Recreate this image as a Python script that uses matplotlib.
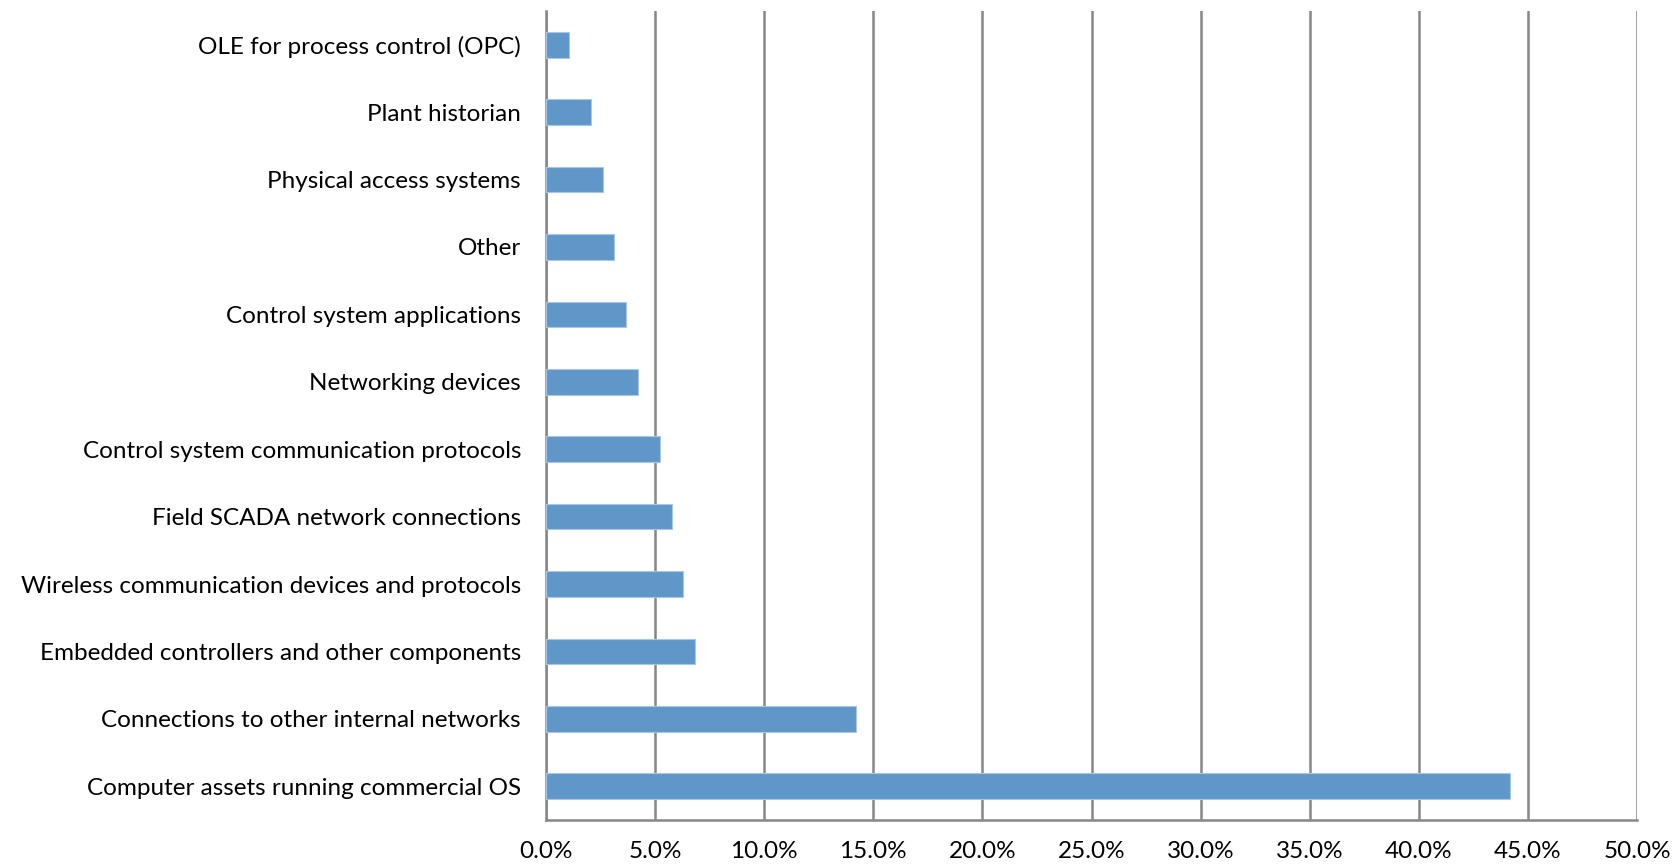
import matplotlib.pyplot as plt
from matplotlib.ticker import FuncFormatter

categorias = [
    "Computer assets running commercial OS",
    "Connections to other internal networks",
    "Embedded controllers and other components",
    "Wireless communication devices and protocols",
    "Field SCADA network connections",
    "Control system communication protocols",
    "Networking devices",
    "Control system applications",
    "Other",
    "Physical access systems",
    "Plant historian",
    "OLE for process control (OPC)",
]
valores = [44.2, 14.2, 6.84, 6.28, 5.76, 5.24, 4.2, 3.68, 3.13, 2.6, 2.08, 1.04]
ticks_x = [0, 5, 10, 15, 20, 25, 30, 35, 40, 45, 50]

plt.rcParams['font.family'] = ['Lato', 'DejaVu Sans']

fig = plt.figure(figsize=(16.73, 8.67), dpi=100)
ax = fig.add_axes([0.3264, 0.0542, 0.6521, 0.9331])

pos = list(range(len(categorias)))
ax.barh(pos, valores, height=0.38, color='#6097c9', edgecolor='#a9c6e6', linewidth=0.8, zorder=3)

ax.set_xlim(0, 50)
ax.set_ylim(-0.5, len(categorias) - 0.5)
ax.set_xticks(ticks_x)
ax.xaxis.set_major_formatter(FuncFormatter(lambda v, p: f"{v:.1f}%"))
ax.set_yticks(pos)
ax.set_yticklabels(categorias)

ax.grid(axis='x', color='#878787', linewidth=1.8, zorder=0)
ax.grid(axis='y', visible=False)
for s in ['top', 'right']:
    ax.spines[s].set_visible(False)
for s in ['left', 'bottom']:
    ax.spines[s].set_color('#878787')
    ax.spines[s].set_linewidth(1.8)

ax.tick_params(axis='x', length=0, pad=15, labelsize=17.5)
ax.tick_params(axis='y', length=0, pad=18, labelsize=17.5)

fig.savefig('out.png', dpi=100)
